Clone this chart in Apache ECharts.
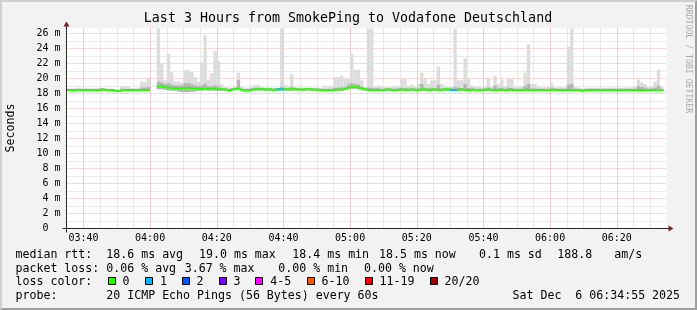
<!DOCTYPE html>
<html><head><meta charset="utf-8">
<script src="https://cdn.jsdelivr.net/npm/echarts@6/dist/echarts.min.js"></script>
<style>html,body{margin:0;padding:0;background:#f2f2f2}#c{width:697px;height:310px}</style>
</head><body><div id="c"></div>
<script>
// ---------- data (minutes after 03:00; one sample per minute) ----------
const firstMinute = 35;
const medianRtt = [
  18.5,18.5,18.5,18.5,18.5,18.5,18.5,18.5,18.5,18.5,
  18.6,18.5,18.5,18.5,18.35,18.35,18.5,18.5,18.5,18.5,
  18.5,18.5,18.5,18.5,18.5,null,null,18.95,18.95,18.85,
  18.8,18.75,18.75,18.7,18.75,18.8,18.8,18.7,18.7,18.65,
  18.65,18.65,18.6,18.65,18.6,18.6,18.6,18.55,18.4,18.6,
  18.65,18.65,18.45,18.45,18.45,18.6,18.6,18.6,18.6,18.55,
  18.6,18.5,18.55,18.6,18.6,18.6,18.6,18.6,18.6,18.55,
  18.55,18.6,18.6,18.55,18.55,18.5,18.5,18.45,18.5,18.5,
  18.55,18.55,18.6,18.7,18.85,18.9,18.9,18.8,18.65,18.55,
  18.5,18.5,18.55,18.5,18.5,18.55,18.55,18.5,18.5,18.55,
  18.55,18.5,18.55,18.55,18.5,18.55,18.6,18.55,18.5,18.55,
  18.55,18.5,18.55,18.6,18.55,18.5,18.5,18.55,18.55,18.5,
  18.5,18.55,18.45,18.5,18.5,18.55,18.55,18.5,18.5,18.55,
  18.5,18.5,18.55,18.5,18.5,18.5,18.5,18.55,18.5,18.5,
  18.5,18.5,18.5,18.5,18.5,18.55,18.5,18.5,18.5,18.5,
  18.5,18.5,18.5,18.5,18.4,18.45,18.5,18.5,18.5,18.5,
  18.5,18.5,18.5,18.5,18.5,18.5,18.5,18.5,18.5,18.5,
  18.5,18.5,18.5,18.5,18.5,18.5,18.5,18.5,18.5
];
const smokeMin = [
  18.35,18.35,18.35,18.35,18.35,18.35,18.35,18.35,18.35,18.35,
  18.4,18.35,18.35,18.35,18.25,18.25,18.35,18.35,18.35,18.35,
  18.35,18.35,18.35,18.35,18.35,null,null,18.6,18.6,18.5,
  18.45,18.4,18.4,18.3,18.2,18.2,18.2,18.25,18.3,18.4,
  18.4,18.45,18.4,18.45,18.4,18.4,18.4,18.35,18.25,18.4,
  18.45,18.45,18.3,18.3,18.3,18.4,18.4,18.4,18.45,18.4,
  18.4,18.35,18.4,18.45,18.45,18.4,18.4,18.4,18.45,18.4,
  18.4,18.4,18.45,18.4,18.4,18.35,18.35,18.3,18.35,18.35,
  18.4,18.4,18.4,18.5,18.6,18.65,18.65,18.55,18.45,18.4,
  18.35,18.35,18.4,18.35,18.35,18.4,18.4,18.35,18.35,18.4,
  18.4,18.35,18.4,18.4,18.35,18.4,18.4,18.4,18.35,18.4,
  18.4,18.35,18.4,18.45,18.4,18.35,18.35,18.4,18.4,18.35,
  18.35,18.4,18.3,18.35,18.35,18.4,18.4,18.35,18.35,18.4,
  18.35,18.35,18.4,18.35,18.35,18.35,18.35,18.4,18.35,18.35,
  18.35,18.35,18.35,18.35,18.35,18.4,18.35,18.35,18.35,18.35,
  18.35,18.35,18.35,18.35,18.25,18.3,18.35,18.35,18.35,18.35,
  18.35,18.35,18.35,18.35,18.35,18.35,18.35,18.35,18.35,18.35,
  18.35,18.3,18.3,18.3,18.35,18.35,18.35,18.35,18.35
];
const smokeMid = [
  18.6,18.6,18.6,18.6,18.6,18.6,18.6,18.6,18.6,18.6,
  18.7,18.6,18.6,18.6,18.45,18.45,18.65,18.65,18.65,18.6,
  18.6,18.6,18.8,18.8,18.9,null,null,19.6,19.5,19.3,
  19.4,19.2,19.1,19.1,19.1,19.4,19.4,19.3,19.1,19.0,
  19.1,19.3,19.0,19.0,19.1,19.0,18.8,18.7,18.55,18.75,
  18.8,19.8,18.6,18.6,18.6,18.75,18.8,18.8,18.75,18.7,
  18.7,18.65,18.7,18.75,18.9,18.75,18.75,18.9,18.75,18.7,
  18.7,18.75,18.75,18.7,18.7,18.65,18.65,18.6,18.65,18.65,
  18.8,18.8,18.85,18.9,19.2,19.4,19.3,19.2,18.9,18.7,
  18.8,18.8,18.7,18.7,18.65,18.7,18.7,18.65,18.65,18.7,
  18.8,18.75,18.7,18.7,18.65,18.7,19.3,18.8,18.7,18.8,
  18.75,19.2,18.7,18.75,18.7,18.7,18.9,18.8,18.75,19.3,
  18.75,18.7,18.6,18.65,18.65,18.7,18.8,18.65,19.1,18.7,
  18.8,18.65,18.8,18.75,18.65,18.65,18.65,19.0,19.3,18.7,
  18.7,18.65,18.65,18.65,18.65,18.8,18.65,18.65,18.65,18.65,
  19.2,19.3,18.65,18.65,18.55,18.6,18.65,18.65,18.65,18.65,
  18.65,18.65,18.65,18.65,18.65,18.65,18.65,18.65,18.65,18.65,
  18.65,19.0,18.9,18.8,18.65,18.7,18.8,19.1,18.65
];
const smokeMax = [
  18.7,18.7,18.75,18.8,18.8,18.75,18.7,18.7,18.75,18.75,
  18.8,18.7,18.7,18.7,18.6,18.6,19.0,19.0,19.0,18.75,
  18.75,18.8,19.6,19.6,20.1,null,null,28,22.0,19.8,
  23.3,20.9,19.6,19.6,19.5,21.1,21.2,20.9,20.2,19.6,
  22.2,25.8,19.8,20.7,23.7,22.4,19.3,18.9,18.8,18.8,
  19.0,20.8,18.9,18.8,18.8,19.0,19.2,19.2,18.9,18.8,
  18.8,18.8,18.8,18.8,28,19.1,19.0,20.6,18.9,18.8,
  18.8,18.8,18.8,18.85,18.8,18.8,18.8,19.1,18.9,19.0,
  20.2,20.2,20.4,20.0,20.0,23.3,21.2,21.2,19.8,18.9,
  28,28,19.0,19.1,18.9,18.9,18.85,18.9,18.9,19.0,
  20.0,20.0,19.0,19.2,19.0,19.3,20.8,20.0,19.3,19.8,
  19.8,21.6,19.3,19.0,18.9,19.0,28,19.8,19.8,22.7,
  20.0,19.1,18.9,18.9,18.9,18.9,20.0,19.0,20.4,19.3,
  19.9,19.0,20.0,20.0,18.9,18.9,19.0,20.8,24.6,19.3,
  19.3,18.9,18.85,18.85,18.9,19.4,18.85,18.85,18.85,18.85,
  24.3,28,18.9,18.85,18.7,18.8,18.8,18.8,18.8,18.8,
  18.8,18.8,18.85,18.8,18.8,18.8,18.8,18.8,18.85,18.8,
  18.9,19.9,19.5,19.3,18.9,19.0,19.6,21.2,18.9
];
// [minute, lost pings]
const lossEvents = [[98,1],[99,1],[150,1],[151,1]];
const lossLegend = [
  ['0','#26ff00'],['1','#00b8ff'],['2','#0059ff'],['3','#7e00ff'],
  ['4-5','#ff00ff'],['6-10','#ff5500'],['11-19','#ff0000'],['20/20','#a10000']
];
const xTickMinutes = [40,60,80,100,120,140,160,180,200];
const xTickLabels = ['03:40','04:00','04:20','04:40','05:00','05:20','05:40','06:00','06:20'];
const titleText = 'Last 3 Hours from SmokePing to Vodafone Deutschland';
const rttStats = ['18.6 ms avg','19.0 ms max','18.4 ms min','18.5 ms now','0.1 ms sd','188.8','am/s'];
const lossStats = ['0.06 % avg','3.67 % max','0.00 % min','0.00 % now'];
const probeText = '20 ICMP Echo Pings (56 Bytes) every 60s';
const stampText = 'Sat Dec  6 06:34:55 2025';

// ---------- layout ----------
const W = 697, H = 310;
const X0 = 66.5, XS = 600, Y0 = 228.5, YS = 200;
const tStart = 35 - 5/60, tEnd = tStart + 180;
const pxm = XS / 180;
const yMax = 26.7;
const ppy = YS / yMax;
const MONO = '"DejaVu Sans Mono", monospace';
const minorCol = '#d6d6d6', majorCol = '#f0b0b0';

const lossOf = {};
lossEvents.forEach(e => { lossOf[e[0]] = e[1]; });

function stepData(pred) {
  const out = [];
  medianRtt.forEach((v, i) => {
    const m = firstMinute + i;
    if (v == null || !pred(m)) { out.push([m, null]); return; }
    out.push([m, v], [m + 1, v]);
  });
  return out;
}
function band(loArr, hiArr) {
  const out = [];
  hiArr.forEach((hi, i) => {
    if (hi == null || loArr[i] == null) return;
    out.push([firstMinute + i, loArr[i], hi]);
  });
  return out;
}
function bandRenderer(color) {
  return function (params, api) {
    const m = api.value(0), lo = api.value(1), hi = api.value(2);
    const a = api.coord([m, hi]);
    const b = api.coord([m + 1, lo]);
    const shape = echarts.graphic.clipRectByRect(
      {x: a[0], y: a[1], width: b[0] - a[0], height: b[1] - a[1]}, params.coordSys);
    if (!shape) return;
    return {type: 'rect', shape: shape, style: {fill: color}};
  };
}

const graphics = [];
// 3D border
graphics.push({type:'polygon', shape:{points:[[0,H],[2,H-2],[2,2],[W-2,2],[W,0],[0,0]]}, style:{fill:'#cfcfcf'}, z:0});
graphics.push({type:'polygon', shape:{points:[[2,H-2],[W-2,H-2],[W-2,2],[W,0],[W,H],[0,H]]}, style:{fill:'#9e9e9e'}, z:0});
function txt(x, y, s, font, opts) {
  opts = opts || {};
  graphics.push({
    type:'text', x:x, y:y, rotation: opts.rotation || 0, z: 50,
    style:{text:s, font:font, fill: opts.fill || '#000',
      textAlign: opts.align || 'left', align: opts.align || 'left',
      textVerticalAlign:'middle', verticalAlign:'middle'}
  });
}
const LF = '11.6px ' + MONO;
txt(348, 18.5, titleText, '13.3px ' + MONO, {align:'center'});
txt(10.5, 128, 'Seconds', LF, {align:'center', rotation: Math.PI/2});
txt(688, 59, 'RRDTOOL / TOBI OETIKER', '8.2px ' + MONO, {align:'center', rotation: -Math.PI/2, fill:'#aaaaaa'});
// legend rows
const rowY = [254.8, 268.5, 282.3, 296.1];
txt(15.5, rowY[0], 'median rtt:', LF);
[106.3,199,292.3,379,479,557.3,614.3].forEach((x, i) => txt(x, rowY[0], rttStats[i], LF));
txt(15.5, rowY[1], 'packet loss:', LF);
[106.3,184.7,278.3,364].forEach((x, i) => txt(x, rowY[1], lossStats[i], LF));
txt(15.5, rowY[2], 'loss color:', LF);
const boxX = [108.5,145.5,182.5,219.5,255.5,307.5,365.5,430.5];
const boxLabelX = [122.5,160,196.5,233.5,270.2,321.5,379.5,444.5];
lossLegend.forEach((d, i) => {
  graphics.push({type:'rect', shape:{x:boxX[i], y:277.5, width:7, height:7}, style:{fill:d[1], stroke:'#000', lineWidth:1}, z:50});
  txt(boxLabelX[i], rowY[2], d[0], LF);
});
txt(15.5, rowY[3], 'probe:', LF);
txt(106.3, rowY[3], probeText, LF);
txt(512.5, rowY[3], stampText, LF);
// axes with arrows
const axisCol = '#2a2a2a', arrowCol = '#801f1f';
graphics.push({type:'line', shape:{x1:X0-4, y1:Y0, x2:X0+XS+4, y2:Y0}, style:{stroke:axisCol, lineWidth:1}, z:60});
graphics.push({type:'line', shape:{x1:X0, y1:Y0+4, x2:X0, y2:Y0-YS-4}, style:{stroke:axisCol, lineWidth:1}, z:60});
graphics.push({type:'polygon', shape:{points:[[X0+XS+2,Y0-3],[X0+XS+2,Y0+3],[X0+XS+7,Y0]]}, style:{fill:arrowCol}, z:60});
graphics.push({type:'polygon', shape:{points:[[X0-3,Y0-YS-2],[X0+3,Y0-YS-2],[X0,Y0-YS-7]]}, style:{fill:arrowCol}, z:60});

const hidden = {show:false};
const dotted = c => ({color:c, width:1, type:[1,1]});

const option = {
  animation: false,
  backgroundColor: '#f2f2f2',
  grid: [
    {left:X0, top:Y0-YS, width:XS, height:YS, show:true, backgroundColor:'#ffffff', borderWidth:0, z:0},
    {left:X0+(35-tStart)*pxm, top:Y0-YS, width:180*pxm, height:YS},
    {left:X0+(40-tStart)*pxm, top:Y0-YS, width:175*pxm, height:YS},
    {left:X0, top:Y0-25*ppy, width:XS, height:24*ppy}
  ],
  xAxis: [
    {gridIndex:0, type:'value', min:tStart, max:tEnd, axisLine:hidden, axisTick:hidden, axisLabel:hidden, splitLine:hidden},
    {gridIndex:1, type:'value', min:35, max:215, interval:5, z:1, axisLine:hidden, axisTick:hidden, axisLabel:hidden,
      splitLine:{show:true, showMinLine:false, showMaxLine:false, lineStyle:dotted(minorCol)}},
    {gridIndex:2, type:'value', min:40, max:215, interval:20, z:2, axisLine:hidden, axisTick:hidden,
      axisLabel:{show:true, margin:5, color:'#000', fontFamily:MONO, fontSize:10, showMaxLabel:false,
        formatter: v => { const k = xTickMinutes.indexOf(Math.round(v)); return k >= 0 ? xTickLabels[k] : ''; }},
      splitLine:{show:true, showMaxLine:false, lineStyle:dotted(majorCol)}},
    {gridIndex:3, type:'value', min:0, max:1, show:false}
  ],
  yAxis: [
    {gridIndex:0, type:'value', min:0, max:yMax, interval:2, z:2, axisLine:hidden, axisTick:hidden,
      axisLabel:{show:true, margin:6, color:'#000', fontFamily:MONO, fontSize:10, showMaxLabel:false,
        formatter: v => v === 0 ? '0  ' : (Math.round(v) + ' m')},
      splitLine:{show:true, showMinLine:false, showMaxLine:false, lineStyle:dotted(majorCol)}},
    {gridIndex:1, type:'value', min:0, max:1, show:false},
    {gridIndex:2, type:'value', min:0, max:1, show:false},
    {gridIndex:3, type:'value', min:1, max:25, interval:2, z:1, axisLine:hidden, axisTick:hidden, axisLabel:hidden,
      splitLine:{show:true, lineStyle:dotted(minorCol)}}
  ],
  series: [
    {type:'custom', xAxisIndex:0, yAxisIndex:0, z:5, silent:true, encode:{x:0, y:[1,2]},
      data: band(smokeMin, smokeMax), renderItem: bandRenderer('#dcdcdc')},
    {type:'custom', xAxisIndex:0, yAxisIndex:0, z:6, silent:true, encode:{x:0, y:[1,2]},
      data: band(smokeMin, smokeMid), renderItem: bandRenderer('#b4b4b4')},
    {type:'line', xAxisIndex:0, yAxisIndex:0, z:8, symbol:'none', silent:true, connectNulls:false,
      lineStyle:{color:lossLegend[0][1], width:2}, data: stepData(m => true)},
    {type:'line', xAxisIndex:0, yAxisIndex:0, z:9, symbol:'none', silent:true, connectNulls:false,
      lineStyle:{color:lossLegend[1][1], width:2}, data: stepData(m => lossOf[m] === 1)}
  ],
  graphic: graphics
};
const chart = echarts.init(document.getElementById('c'), null, {renderer:'canvas', width:W, height:H});
chart.setOption(option);
</script>
</body></html>
